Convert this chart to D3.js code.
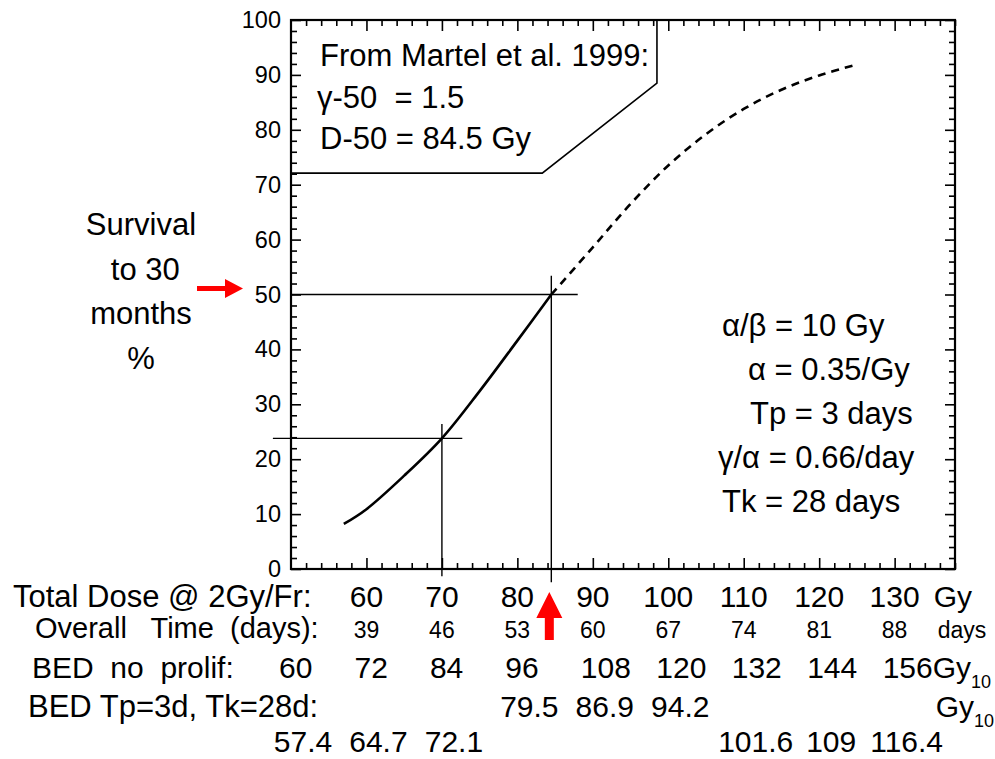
<!DOCTYPE html>
<html>
<head>
<meta charset="utf-8">
<script src="https://cdn.jsdelivr.net/npm/d3@7"></script>
<style>
  html, body { margin: 0; padding: 0; background: #fff; }
  svg text { font-family: "Liberation Sans", Arial, Helvetica, sans-serif; fill: #000; white-space: pre; }
</style>
</head>
<body>
<div id="chart"></div>
<script>
// ---- data ----
const yTicks = [0, 10, 20, 30, 40, 50, 60, 70, 80, 90, 100];
const doseTicks = [60, 70, 80, 90, 100, 110, 120, 130];
const overallDays = [39, 46, 53, 60, 67, 74, 81, 88];
const bedDoses = [50, 60, 70, 80, 90, 100, 110, 120, 130];
const bedNoProlif = [60, 72, 84, 96, 108, 120, 132, 144, 156];
const bedProlif = ['57.4', '64.7', '72.1', '79.5', '86.9', '94.2', '101.6', '109', '116.4'];

// survival curve (dose Gy, survival %)
const solidCurve = [[57, 8.2], [60, 10.9], [65, 17.0], [70, 23.8], [75, 32.4], [80, 41.6], [84.5, 50]];
const dashedCurve = [[84.5, 50], [90, 58.6], [95, 66.5], [100, 73.5], [105, 79.2], [110, 83.8], [115, 87.3], [120, 89.9], [125, 91.9]];

const d50 = 84.5;
const lowRef = { dose: 70, surv: 23.8 };

const boxLines = ['From Martel et al. 1999:', 'γ-50  = 1.5', 'D-50 = 84.5 Gy'];
const paramLines = ['α/β = 10 Gy', 'α = 0.35/Gy', 'Tp = 3 days', 'γ/α = 0.66/day', 'Tk = 28 days'];
const yLabelLines = ['Survival', ' to 30', 'months', '%'];

// ---- layout ----
const W = 995, H = 759;
const svg = d3.select('#chart').append('svg')
    .attr('width', W)
    .attr('height', H);

const x = d3.scaleLinear().domain([50, 138]).range([291, 955]);
const y = d3.scaleLinear().domain([0, 100]).range([569, 20]);

const minorX = d3.range(50, 139, 2).filter(d => d % 10 !== 0);
const minorY = d3.range(0, 101, 2).filter(d => d % 10 !== 0);

// --- Axes (ticks point inward on all four sides) ---
function styleAxis(g) {
    g.select('.domain').remove();
    g.selectAll('line').attr('stroke', '#000').attr('stroke-width', 1.6);
}

svg.append('g')
    .attr('transform', `translate(${x.range()[0]},0)`)
    .call(d3.axisLeft(y).tickValues(yTicks).tickSize(-10).tickPadding(10))
    .call(styleAxis)
    .selectAll('text').attr('font-size', 23.5).attr('font-family', 'Liberation Sans, Arial, sans-serif');
svg.append('g')
    .attr('transform', `translate(${x.range()[0]},0)`)
    .call(d3.axisLeft(y).tickValues(minorY).tickSize(-6).tickFormat(''))
    .call(styleAxis);

svg.append('g')
    .attr('transform', `translate(${x.range()[1]},0)`)
    .call(d3.axisRight(y).tickValues(yTicks).tickSize(-10).tickFormat(''))
    .call(styleAxis);
svg.append('g')
    .attr('transform', `translate(${x.range()[1]},0)`)
    .call(d3.axisRight(y).tickValues(minorY).tickSize(-6).tickFormat(''))
    .call(styleAxis);

svg.append('g')
    .attr('transform', `translate(0,${y(0)})`)
    .call(d3.axisBottom(x).tickValues(doseTicks).tickSize(-11).tickFormat(''))
    .call(styleAxis);
svg.append('g')
    .attr('transform', `translate(0,${y(0)})`)
    .call(d3.axisBottom(x).tickValues(minorX).tickSize(-6).tickFormat(''))
    .call(styleAxis);

svg.append('g')
    .attr('transform', `translate(0,${y(100)})`)
    .call(d3.axisTop(x).tickValues(doseTicks).tickSize(-11).tickFormat(''))
    .call(styleAxis);
svg.append('g')
    .attr('transform', `translate(0,${y(100)})`)
    .call(d3.axisTop(x).tickValues(minorX).tickSize(-6).tickFormat(''))
    .call(styleAxis);

// frame
svg.append('rect')
    .attr('x', x(50)).attr('y', y(100))
    .attr('width', x(138) - x(50)).attr('height', y(0) - y(100))
    .attr('fill', 'none').attr('stroke', '#000').attr('stroke-width', 2.2);

// --- Reference box (top-left) ---
const boxPts = [[50, 72.1], [83.3, 72.1], [98.5, 88.5], [98.5, 100]];
svg.append('path')
    .attr('d', d3.line().x(d => x(d[0])).y(d => y(d[1]))(boxPts))
    .attr('fill', 'none').attr('stroke', '#000').attr('stroke-width', 1.6);

svg.selectAll('.box-line')
    .data(boxLines)
    .enter().append('text')
    .attr('class', 'box-line')
    .attr('x', (d, i) => i === 1 ? 317 : 320)
    .attr('y', (d, i) => 66 + i * 41.5)
    .attr('font-size', 31)
    .text(d => d);

// --- Drop lines ---
const thin = 1.4;
// 50% level
svg.append('line')
    .attr('x1', x(50)).attr('x2', x(88))
    .attr('y1', y(50)).attr('y2', y(50))
    .attr('stroke', '#000').attr('stroke-width', thin);
svg.append('line')
    .attr('x1', x(d50)).attr('x2', x(d50))
    .attr('y1', y(53.4)).attr('y2', y(-2.4))
    .attr('stroke', '#000').attr('stroke-width', thin);
// 70 Gy level
svg.append('line')
    .attr('x1', x(47.6)).attr('x2', x(72.7))
    .attr('y1', y(lowRef.surv)).attr('y2', y(lowRef.surv))
    .attr('stroke', '#000').attr('stroke-width', thin);
svg.append('line')
    .attr('x1', x(lowRef.dose)).attr('x2', x(lowRef.dose))
    .attr('y1', y(26.4)).attr('y2', y(-1.3))
    .attr('stroke', '#000').attr('stroke-width', thin);

// --- Curve ---
const line = d3.line()
    .x(d => x(d[0]))
    .y(d => y(d[1]))
    .curve(d3.curveCatmullRom);

svg.append('path')
    .attr('d', line(solidCurve))
    .attr('fill', 'none').attr('stroke', '#000').attr('stroke-width', 2.6);
svg.append('path')
    .attr('d', line(dashedCurve))
    .attr('fill', 'none').attr('stroke', '#000').attr('stroke-width', 2.6)
    .attr('stroke-dasharray', '8,6');

// --- Parameter block (right) ---
const paramX = [722, 748, 750, 718, 722];
svg.selectAll('.param')
    .data(paramLines)
    .enter().append('text')
    .attr('class', 'param')
    .attr('x', (d, i) => paramX[i])
    .attr('y', (d, i) => 336 + i * 44)
    .attr('font-size', 31)
    .text(d => d);

// --- Y axis title ---
svg.selectAll('.ylab')
    .data(yLabelLines)
    .enter().append('text')
    .attr('class', 'ylab')
    .attr('x', 141)
    .attr('y', (d, i) => 235 + i * 44.5)
    .attr('text-anchor', 'middle')
    .attr('font-size', 31)
    .text(d => d);

// --- Red arrows ---
const ay = y(50) - 6;
svg.append('path')
    .attr('d', `M197,${ay - 2.5} L225,${ay - 2.5} L225,${ay - 9.5} L243,${ay} L225,${ay + 9.5} L225,${ay + 2.5} L197,${ay + 2.5} Z`)
    .attr('fill', '#ff0000');

const ax = x(d50) - 2;
svg.append('path')
    .attr('d', `M${ax},592 L${ax + 13},618 L${ax + 4.5},618 L${ax + 4.5},640 L${ax - 4.5},640 L${ax - 4.5},618 L${ax - 13},618 Z`)
    .attr('fill', '#ff0000');

// --- Table under the axis ---
const rowY = [607, 638, 678, 717, 752];
const unitX = x(130) + 39;

svg.append('text').attr('x', 13).attr('y', rowY[0]).attr('font-size', 31).text('Total Dose @ 2Gy/Fr:');
svg.selectAll('.dose-lab')
    .data(doseTicks)
    .enter().append('text')
    .attr('x', d => x(d)).attr('y', rowY[0])
    .attr('text-anchor', 'middle').attr('font-size', 30)
    .text(d => d);
svg.append('text').attr('x', unitX).attr('y', rowY[0]).attr('font-size', 30).text('Gy');

svg.append('text').attr('x', 35).attr('y', rowY[1]).attr('font-size', 29).text('Overall   Time  (days):');
svg.selectAll('.days-lab')
    .data(overallDays)
    .enter().append('text')
    .attr('x', (d, i) => x(doseTicks[i])).attr('y', rowY[1])
    .attr('text-anchor', 'middle').attr('font-size', 23)
    .text(d => d);
svg.append('text').attr('x', unitX + 4).attr('y', rowY[1]).attr('font-size', 23).text('days');

svg.append('text').attr('x', 32).attr('y', rowY[2]).attr('font-size', 30).text('BED  no  prolif:');
svg.selectAll('.bed-lab')
    .data(bedNoProlif)
    .enter().append('text')
    .attr('x', (d, i) => x(bedDoses[i]) - 12).attr('y', rowY[2])
    .attr('font-size', 30)
    .text(d => d);

function gy10(yy, xx) {
    const t = svg.append('text').attr('x', xx).attr('y', yy).attr('font-size', 30);
    t.append('tspan').text('Gy');
    t.append('tspan').attr('dy', 10).attr('font-size', 18).text('10');
}
gy10(rowY[2], unitX - 1);

svg.append('text').attr('x', 28).attr('y', rowY[3]).attr('font-size', 31).text('BED Tp=3d, Tk=28d:');
svg.selectAll('.bedp-lab')
    .data(bedProlif)
    .enter().append('text')
    .attr('x', (d, i) => x(bedDoses[i]) + 12)
    .attr('y', (d, i) => (i >= 3 && i <= 5) ? rowY[3] : rowY[4])
    .attr('text-anchor', 'middle').attr('font-size', 30)
    .text(d => d);
gy10(rowY[3], unitX + 2);
</script>
</body>
</html>
